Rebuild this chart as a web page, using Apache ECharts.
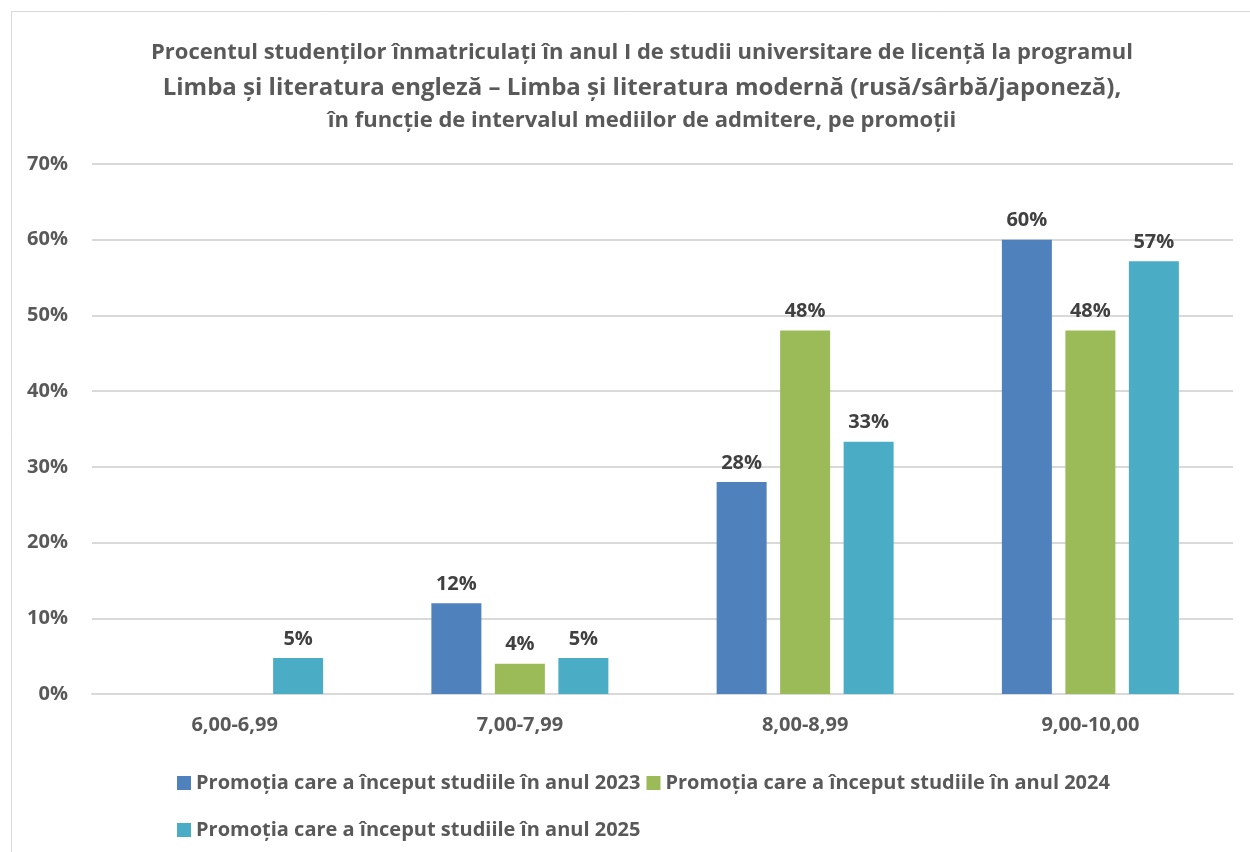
<!DOCTYPE html>
<html>
<head>
<meta charset="utf-8">
<script src="https://cdn.jsdelivr.net/npm/echarts@6/dist/echarts.min.js"></script>
<style>
  html, body { margin: 0; padding: 0; background: #fff; }
  #chart { width: 1250px; height: 852px; }
</style>
</head>
<body>
<div id="chart"></div>
<script>
const categories = ['6,00-6,99', '7,00-7,99', '8,00-8,99', '9,00-10,00']
const seriesNames = [
  'Promoția care a început studiile în anul 2023',
  'Promoția care a început studiile în anul 2024',
  'Promoția care a început studiile în anul 2025'
]
const values2023 = [null, 12, 28, 60]
const values2024 = [null, 4, 48, 48]
const values2025 = [4.76, 4.76, 33.33, 57.14]
const colors = ['#4F81BD', '#9BBB59', '#4BACC6']

const font = '"Open Sans", sans-serif'
const textColor = '#595959'
const fs = 20

const chart = echarts.init(document.getElementById('chart'))

const makeSeries = (name, data, color) => ({
  name,
  type: 'bar',
  data,
  barWidth: 50,
  barGap: '27%',
  itemStyle: { color },
  label: {
    show: true,
    position: 'top',
    distance: 9,
    fontFamily: font,
    fontWeight: 'bold',
    fontSize: fs,
    color: '#404040',
    formatter: p => Math.round(p.value) + '%'
  }
})

chart.setOption({
  animation: false,
  textStyle: { fontFamily: font },
  graphic: [{
    type: 'rect',
    shape: { x: 11.5, y: 11.5, width: 1260, height: 900 },
    style: { fill: 'none', stroke: '#d9d9d9', lineWidth: 1 },
    silent: true
  }],
  title: {
    left: 637,
    top: 31,
    textAlign: 'center',
    text: '{a|Procentul studenților înmatriculați în anul I de studii universitare de licență la programul}\n' +
      '{b|Limba și literatura engleză – Limba și literatura modernă (rusă/sârbă/japoneză),}\n' +
      '{c|în funcție de intervalul mediilor de admitere, pe promoții}',
    textStyle: {
      rich: {
        a: { fontFamily: font, fontWeight: 'bold', fontSize: 22, color: textColor, lineHeight: 34, align: 'center' },
        b: { fontFamily: font, fontWeight: 'bold', fontSize: 24, color: textColor, lineHeight: 36, align: 'center' },
        c: { fontFamily: font, fontWeight: 'bold', fontSize: 22, color: textColor, lineHeight: 30, align: 'center' }
      }
    }
  },
  legend: [{
    data: seriesNames.slice(0, 2),
    left: 172,
    top: 768,
    itemWidth: 14,
    itemHeight: 14,
    itemGap: 6,
    icon: 'rect',
    textStyle: { fontFamily: font, fontWeight: 'bold', fontSize: fs, color: textColor }
  }, {
    data: seriesNames.slice(2),
    left: 172,
    top: 815,
    itemWidth: 14,
    itemHeight: 14,
    icon: 'rect',
    textStyle: { fontFamily: font, fontWeight: 'bold', fontSize: fs, color: textColor }
  }],
  grid: {
    left: 92,
    right: 17,
    top: 164,
    bottom: 158,
    containLabel: false
  },
  xAxis: {
    type: 'category',
    data: categories,
    axisTick: { show: false },
    axisLine: { lineStyle: { color: '#d9d9d9', width: 2 } },
    axisLabel: {
      margin: 21,
      fontFamily: font,
      fontWeight: 'bold',
      fontSize: fs,
      color: textColor
    }
  },
  yAxis: {
    type: 'value',
    min: 0,
    max: 70,
    interval: 10,
    axisLine: { show: false },
    axisTick: { show: false },
    splitLine: { lineStyle: { color: '#d9d9d9', width: 2 } },
    axisLabel: {
      margin: 24,
      fontFamily: font,
      fontWeight: 'bold',
      fontSize: fs,
      color: textColor,
      formatter: '{value}%'
    }
  },
  series: [
    makeSeries(seriesNames[0], values2023, colors[0]),
    makeSeries(seriesNames[1], values2024, colors[1]),
    makeSeries(seriesNames[2], values2025, colors[2])
  ]
})
</script>
</body>
</html>
